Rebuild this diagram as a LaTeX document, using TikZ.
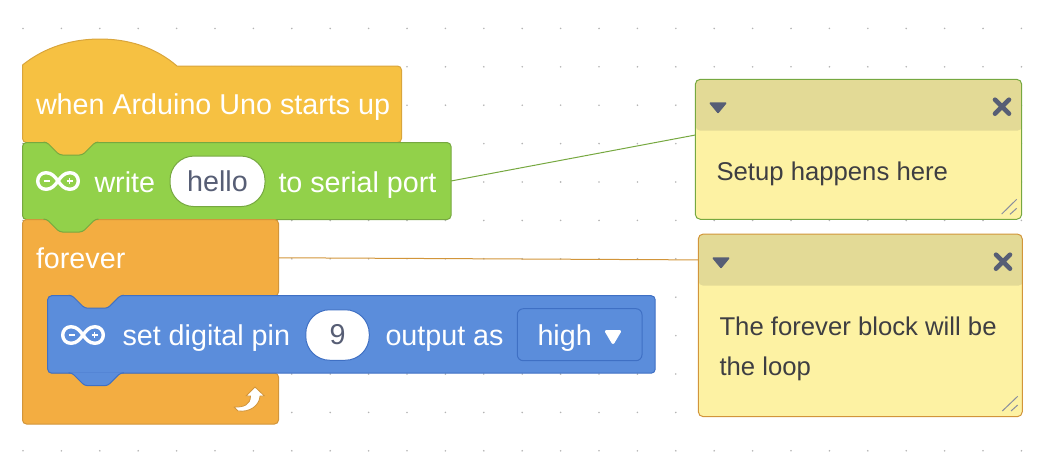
\documentclass[tikz,border=0pt]{standalone}
\usepackage{fontspec}
\setmainfont{Liberation Sans}
\usetikzlibrary{positioning, calc}

\definecolor{hatfill}{HTML}{F6C142}
\definecolor{hatedge}{HTML}{D9A53B}
\definecolor{serialfill}{HTML}{92D14A}
\definecolor{serialedge}{HTML}{76A840}
\definecolor{loopfill}{HTML}{F3AD41}
\definecolor{loopedge}{HTML}{D2953A}
\definecolor{pinfill}{HTML}{5B8DDB}
\definecolor{pinedge}{HTML}{3F70C4}
\definecolor{notefill}{HTML}{FDF2A3}
\definecolor{notehead}{HTML}{E3DA96}
\definecolor{slate}{HTML}{575E75}
\definecolor{notetext}{HTML}{3E3E42}
\definecolor{griddot}{HTML}{B4B4B4}

\newcommand{\blocknotch}[4]{%
  \path[shift={(#1,#2)}, fill=#3, draw=#4, line width=1pt, rounded corners=3pt]
    (21,-0.5) -- (24,-0.5) -- (37,12.5) -- (60,12.5) -- (73,-0.5) -- (76,-0.5);}

\begin{document}
\begin{tikzpicture}[x=1pt, y=-1pt, line width=1pt,
  blockfont/.style = {font=\fontsize{28.7}{34}\selectfont},
  blockbox/.style = {draw, rounded corners=4pt, inner sep=0pt, outer sep=0pt, anchor=north west},
  blocktext/.style = {blockfont, text=white, anchor=base west, inner sep=0pt},
  field/.style = {blockfont, draw, fill=white, text=slate, rounded corners=24pt, inner sep=0pt, minimum height=50.5pt},
  notebox/.style = {draw, rounded corners=5pt, fill=notefill, inner sep=0pt, outer sep=0pt, anchor=north west},
  notefont/.style = {font=\fontsize{25.7}{40}\selectfont, text=notetext, anchor=base west, inner sep=0pt, align=left},
  noteicon/.style = {fill=slate, draw=slate, line width=1.8pt, line join=round},
  closeicon/.style = {draw=slate, line width=4.6pt, line cap=round},
  resize/.style = {draw=slate!70, line width=1pt},
  arduino/.pic = {
    \draw[white, line width=3.4pt]
      (0,0) .. controls (3,-4) and (6,-8.3) .. (12,-8.3)
      .. controls (17,-8.3) and (20.3,-4.5) .. (20.3,0)
      .. controls (20.3,4.5) and (17,8.3) .. (12,8.3)
      .. controls (6,8.3) and (3,4) .. (0,0)
      .. controls (-3,-4) and (-6,-8.3) .. (-12,-8.3)
      .. controls (-17,-8.3) and (-20.3,-4.5) .. (-20.3,0)
      .. controls (-20.3,4.5) and (-17,8.3) .. (-12,8.3)
      .. controls (-6,8.3) and (-3,4) .. (0,0);
    \draw[white, line width=1.5pt] (-14.5,0) -- (-8.5,0) (8.5,0) -- (14.5,0) (11.5,-3) -- (11.5,3);
  }]
  \useasboundingbox (0,0) rectangle (1052,456);

  % canvas dots
  \foreach \col in {0,...,26}
    \foreach \row in {0,...,11}
      \fill[griddot] (23+38.4*\col,28.4+38.4*\row) circle (0.9);

  % start block
  \draw[fill=hatfill, draw=hatedge]
    (22.5,65) .. controls (45,47) and (72,39) .. (100,39)
    .. controls (128,39) and (155,47) .. (177,66)
    [rounded corners=4pt] -- (401.5,66) -- (401.5,142.5) -- (22.5,142.5) -- (22.5,65);
  \node (hatblock) [blockbox, draw=none, minimum width=379pt, minimum height=76.5pt] at (22.5,66) {};
  \node (hatlabel) [blocktext] at (35.5,114.6) {when Arduino Uno starts up};

  % serial block
  \node (serialblock) [blockbox, fill=serialfill, draw=serialedge, minimum width=428.5pt, minimum height=77pt] at (22.5,142.5) {};
  \blocknotch{22.5}{142.5}{hatfill}{serialedge}
  \pic at (58,181) {arduino};
  \node (writelabel) [blocktext] at (94,192.2) {write};
  \node (hellofield) [field, draw=serialedge, minimum width=95pt] at (217.5,181.3) {hello};
  \node (portlabel) [blocktext] at (278,192.2) {to serial port};

  % forever block
  \draw[fill=loopfill, draw=loopedge, rounded corners=4pt]
    (22.5,219.5) -- (278.5,219.5) -- (278.5,296) -- (48,296) -- (48,373)
    -- (278.5,373) -- (278.5,424) -- (22.5,424) -- cycle;
  \blocknotch{22.5}{219.5}{serialfill}{serialedge}
  \node (foreverblock) [blockbox, draw=none, minimum width=256pt, minimum height=76.5pt] at (22.5,219.5) {};
  \node (foreverlabel) [blocktext] at (35.5,268.6) {forever};
  \draw[fill=white, draw=loopedge, line width=0.8pt, line join=round]
    (255,387) -- (264.5,396) -- (260,396)
    .. controls (259.5,405.5) and (250,412.5) .. (238,411) -- (234,407)
    .. controls (243,407.5) and (250.5,405) .. (250.5,396) -- (246,396) -- cycle;

  % digital pin block
  \node (pinblock) [blockbox, fill=pinfill, draw=pinedge, minimum width=607.5pt, minimum height=77.5pt] at (47.7,295.7) {};
  \blocknotch{47.7}{295.7}{loopfill}{pinedge}
  \blocknotch{47.7}{373.2}{pinfill}{pinedge}
  \pic at (83,335) {arduino};
  \node (pinlabel) [blocktext] at (122,345) {set digital pin};
  \node (pinfield) [field, draw=pinedge, minimum width=63.5pt] at (337.5,335) {9};
  \node (outputlabel) [blocktext] at (385,345) {output as};
  \node (highmenu) [blockbox, draw=pinedge, minimum width=124.7pt, minimum height=52pt, rounded corners=6pt] at (517.3,308.7) {};
  \node (highlabel) [blocktext] at (537,345) {high};
  \draw[fill=white, draw=white, line width=3pt, line join=round] (606.5,331.5) -- (619.5,331.5) -- (613,342.5) -- cycle;

  % first note
  \node (setupnote) [notebox, draw=serialedge, minimum width=326.4pt, minimum height=140pt,
    path picture={\fill[notehead] (path picture bounding box.north west) rectangle ++(327,51.4);}] at (695.3,79.3) {};
  \node (setuptext) [notefont] at (716,180) {Setup happens here};
  \draw[noteicon] (710.5,103.2) -- (725.5,103.2) -- (718,112.3) -- cycle;
  \draw[closeicon] (995,99.7) -- (1009,113.7) (1009,99.7) -- (995,113.7);
  \draw[resize] (1001.7,214) -- (1016.7,199.3) (1010,214.3) -- (1016.7,208.3);
  \draw[serialedge] (serialblock.east) -- (setupnote.175.3);

  % second note
  \node (loopnote) [notebox, draw=loopedge, minimum width=324pt, minimum height=182.7pt,
    path picture={\fill[notehead] (path picture bounding box.north west) rectangle ++(325,51.7);}] at (698.3,234) {};
  \node (looptext) [notefont] at (719,375) {The forever block will be\\the loop};
  \draw[noteicon] (713.5,258.2) -- (728.5,258.2) -- (721,267.3) -- cycle;
  \draw[closeicon] (996,254.7) -- (1010,268.7) (1010,254.7) -- (996,268.7);
  \draw[resize] (1002.3,411) -- (1017.7,396.3) (1011,411) -- (1017.7,405);
  \draw[loopedge] (foreverblock.east) -- (loopnote.158.7);
\end{tikzpicture}
\end{document}
